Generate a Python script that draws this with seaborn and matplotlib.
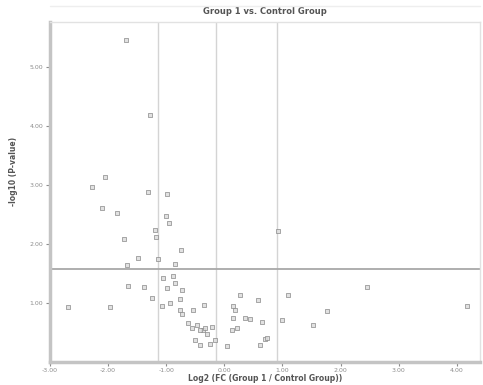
import numpy as np
import pandas as pd
import matplotlib
matplotlib.use("Agg")
import matplotlib.pyplot as plt
import seaborn as sns

# log2 fold change and -log10 p-value
log2_fc = [
    -1.69, -1.28, -2.05, -2.28, -1.31, -0.99, -2.10, -1.85, -1.00, -0.95,
    -1.19, -1.18, -1.73, 0.92, -0.75, -2.69, -1.97, -1.66, -1.49, -1.67,
    -1.14, -0.85, -0.88, -1.06, -0.99, -1.38, -1.24, -0.73, -0.76, -0.93,
    -1.07, -0.76, -0.73, -0.62, -0.54, -0.35, -0.37, -0.47, -0.50, -0.25,
    -0.30, 0.05, 0.13, 0.22, 0.15, 0.27, 0.15, 1.10, 2.46, 1.77,
    1.53, 0.99, 0.70, 0.61, 0.65, 0.44, 0.58, 4.18, 0.18, -0.85,
    -0.42, -0.33, 0.73, -0.56, -0.16, -0.42, -0.21, 0.36,
]
neg_log_p = [
    5.46, 4.19, 3.14, 2.97, 2.88, 2.85, 2.61, 2.53, 2.47, 2.36,
    2.24, 2.12, 2.08, 2.22, 1.90, 0.93, 0.93, 1.29, 1.76, 1.64,
    1.75, 1.66, 1.46, 1.42, 1.25, 1.27, 1.08, 1.22, 1.07, 1.00,
    0.95, 0.88, 0.81, 0.66, 0.88, 0.97, 0.54, 0.63, 0.37, 0.31,
    0.47, 0.27, 0.54, 0.58, 0.75, 1.14, 0.95, 1.14, 1.27, 0.86,
    0.63, 0.71, 0.39, 0.29, 0.68, 0.73, 1.05, 0.95, 0.88, 1.34,
    0.54, 0.58, 0.41, 0.58, 0.37, 0.29, 0.59, 0.75,
]
x_ticks = [-3, -2, -1, 0, 1, 2, 3, 4]
y_ticks = [1, 2, 3, 4, 5]
fc_lines = [-1.14, -0.14, 0.90]
p_line = 1.58

df = pd.DataFrame({"fc": log2_fc, "p": neg_log_p})

sns.set_style("white")
plt.rcParams["font.family"] = ["DejaVu Sans"]

fig = plt.figure(figsize=(4.83, 3.85), dpi=100)
ax = fig.add_axes([0.1035, 0.06, 0.8905, 0.883])

for v in fc_lines:
    ax.axvline(v, color="#d4d4d4", lw=1.0, zorder=1)
ax.axhline(p_line, color="#a8a8a8", lw=1.3, zorder=1)

sns.scatterplot(data=df, x="fc", y="p", ax=ax, marker="s", s=11,
                facecolor="#dcdcdc", edgecolor="#8a8a8a", linewidth=0.6,
                alpha=0.85, zorder=3)

ax.set_xlim(-3, -3 + 430 / 58.1)
ax.set_ylim(0, 340 / 59)
ax.set_xticks(x_ticks)
ax.set_yticks(y_ticks)
ax.set_xticklabels([f"{t:.2f}" for t in x_ticks])
ax.set_yticklabels([f"{t:.2f}" for t in y_ticks])
ax.tick_params(axis="both", labelsize=4.5, colors="#8c8c8c", length=3,
               width=0.8, direction="out")
ax.tick_params(axis="x", pad=1.5)
ax.tick_params(axis="y", pad=2)
ax.tick_params(axis="both", which="both", bottom=True, left=True)

for side in ["left", "bottom"]:
    ax.spines[side].set_color("#c4c4c4")
    ax.spines[side].set_linewidth(2.5)
for side in ["top", "right"]:
    ax.spines[side].set_color("#e2e2e2")
    ax.spines[side].set_linewidth(1.0)

fig.add_artist(plt.Line2D([0.1035, 0.994], [0.985, 0.985],
                          color="#eeeeee", lw=1.0))

ax.set_title("Group 1 vs. Control Group", fontsize=6, color="#555555",
             fontweight="bold", pad=6)
ax.set_xlabel("Log2 (FC (Group 1 / Control Group))", fontsize=5.5,
              color="#555555", fontweight="bold")
ax.xaxis.set_label_coords(0.5, -0.035)
ax.set_ylabel("-log10 (P-value)", fontsize=5.5, color="#555555",
              fontweight="bold")
ax.yaxis.set_label_coords(-0.075, 0.56)

fig.savefig("out.png", dpi=100)
